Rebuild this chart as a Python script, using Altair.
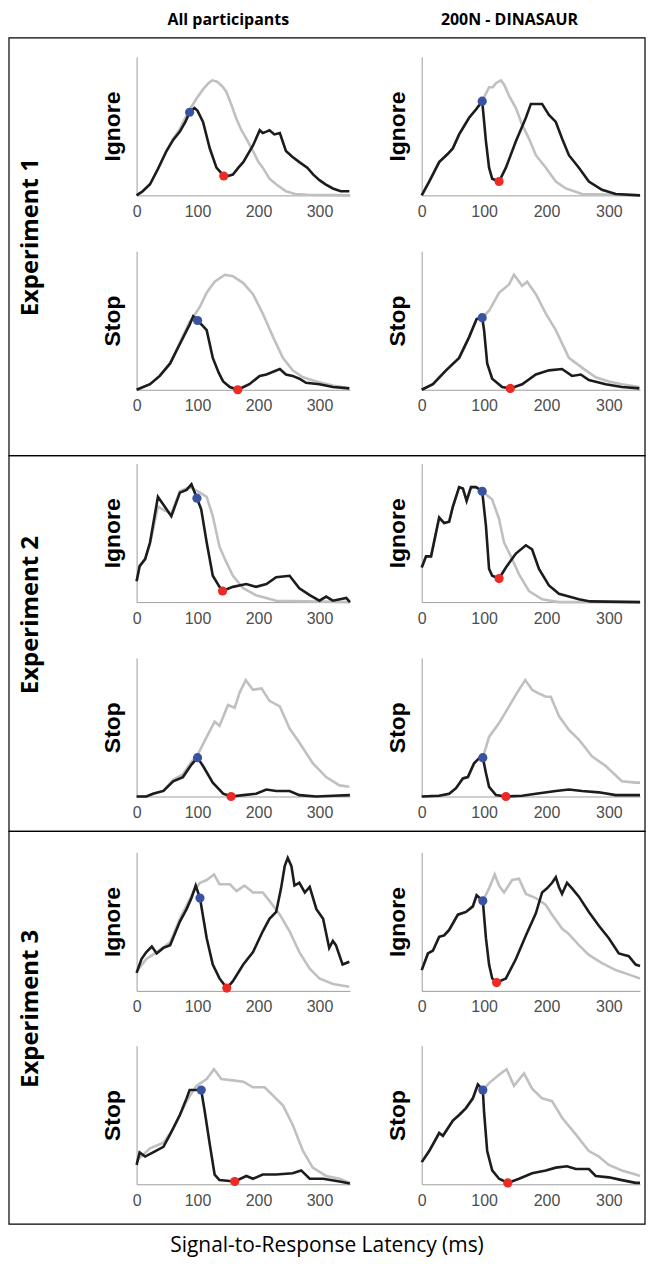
import altair as alt
import pandas as pd

# ---------------- text ----------------
HEADERS = ["All participants", "200N - DINASAUR"]
EXPERIMENTS = ["Experiment 1", "Experiment 2", "Experiment 3"]
CONDITIONS = ["Ignore", "Stop"]
X_TICKS = [0, 100, 200, 300]
X_TITLE = "Signal-to-Response Latency (ms)"

# ---------------- data (latency ms, normalised density) ----------------
# Experiment 1 - All participants - Ignore
E1_ALL_IGN_GRAY = [(0,0),(10,0.03),(22,0.08),(35,0.19),(49,0.32),(60,0.41),(71,0.48),(80,0.56),(90,0.64),(100,0.71),(110,0.77),(118,0.81),(124,0.83),(132,0.82),(140,0.79),(147,0.75),(155,0.66),(164,0.55),(172,0.47),(180,0.41),(191,0.32),(200,0.24),(207,0.20),(218,0.12),(229,0.08),(245,0.03),(260,0.01),(280,0.005),(350,0)]
E1_ALL_IGN_BLACK = [(0,0),(10,0.03),(22,0.08),(35,0.19),(49,0.32),(60,0.40),(71,0.46),(80,0.53),(87,0.60),(95,0.63),(100,0.61),(109,0.53),(120,0.34),(131,0.20),(143,0.14),(150,0.14),(158,0.15),(167,0.20),(175,0.24),(191,0.36),(202,0.47),(207,0.45),(213,0.46),(218,0.47),(226,0.44),(235,0.45),(245,0.32),(255,0.28),(267,0.24),(280,0.20),(290,0.15),(300,0.11),(310,0.08),(322,0.05),(335,0.03),(349,0.03)]
E1_ALL_IGN_MARKS = [(87,0.60),(143,0.14)]
# Experiment 1 - DINASAUR - Ignore
E1_DIN_IGN_GRAY = [(0,0),(12,0.10),(28,0.24),(42,0.30),(50,0.34),(60,0.44),(76,0.56),(87,0.62),(97,0.68),(108,0.78),(114,0.78),(119,0.81),(127,0.83),(132,0.80),(140,0.72),(151,0.63),(161,0.51),(172,0.41),(183,0.29),(199,0.20),(215,0.10),(231,0.05),(257,0.01),(350,0)]
E1_DIN_IGN_BLACK = [(0,0),(12,0.10),(28,0.24),(42,0.30),(50,0.34),(60,0.44),(76,0.56),(87,0.62),(97,0.68),(103,0.39),(108,0.20),(113,0.12),(124,0.10),(135,0.20),(151,0.39),(167,0.56),(175,0.66),(183,0.66),(193,0.66),(204,0.58),(215,0.53),(225,0.41),(236,0.29),(252,0.20),(268,0.10),(289,0.04),(311,0.01),(350,0)]
E1_DIN_IGN_MARKS = [(97,0.68),(124,0.10)]
# Experiment 1 - All participants - Stop
E1_ALL_STP_GRAY = [(0,0),(22,0.04),(38,0.10),(55,0.19),(71,0.34),(87,0.49),(95,0.54),(104,0.60),(115,0.70),(128,0.78),(145,0.83),(158,0.82),(175,0.77),(191,0.69),(207,0.55),(224,0.38),(240,0.23),(256,0.14),(273,0.09),(295,0.06),(322,0.03),(349,0.01)]
E1_ALL_STP_BLACK = [(0,0),(22,0.04),(38,0.10),(55,0.19),(71,0.33),(87,0.47),(93,0.53),(100,0.50),(109,0.46),(115,0.43),(125,0.23),(135,0.12),(142,0.06),(153,0.02),(166,0.0),(185,0.04),(202,0.10),(213,0.11),(235,0.15),(245,0.11),(256,0.10),(267,0.08),(278,0.05),(300,0.04),(322,0.02),(349,0.01)]
E1_ALL_STP_MARKS = [(100,0.50),(166,0.0)]
# Experiment 1 - DINASAUR - Stop
E1_DIN_STP_GRAY = [(0,0),(18,0.04),(39,0.14),(60,0.23),(76,0.38),(88,0.51),(97,0.52),(108,0.57),(124,0.70),(140,0.76),(148,0.83),(161,0.75),(169,0.78),(183,0.69),(199,0.55),(215,0.43),(236,0.23),(257,0.16),(279,0.09),(300,0.06),(321,0.04),(349,0.02)]
E1_DIN_STP_BLACK = [(0,0),(18,0.04),(39,0.14),(60,0.23),(76,0.38),(88,0.51),(97,0.52),(100,0.43),(105,0.19),(113,0.08),(129,0.02),(142,0.01),(161,0.04),(183,0.11),(204,0.14),(225,0.15),(241,0.10),(255,0.11),(268,0.07),(295,0.04),(321,0.02),(349,0.01)]
E1_DIN_STP_MARKS = [(97,0.52),(142,0.01)]
# Experiment 2 - All participants - Ignore
E2_ALL_IGN_GRAY = [(0,0.15),(5,0.26),(14,0.31),(22,0.42),(35,0.69),(46,0.66),(57,0.64),(71,0.80),(87,0.83),(104,0.79),(115,0.76),(125,0.62),(136,0.40),(147,0.29),(158,0.19),(175,0.10),(196,0.05),(229,0.01),(350,0)]
E2_ALL_IGN_BLACK = [(0,0.15),(5,0.26),(14,0.31),(22,0.43),(35,0.76),(46,0.69),(57,0.62),(71,0.79),(82,0.81),(90,0.85),(99,0.75),(106,0.67),(115,0.43),(125,0.19),(136,0.11),(141,0.08),(158,0.11),(180,0.13),(196,0.11),(213,0.13),(229,0.18),(251,0.19),(267,0.10),(284,0.05),(300,0.01),(311,0.04),(322,0.01),(344,0.03),(350,0.0)]
E2_ALL_IGN_MARKS = [(99,0.75),(141,0.08)]
# Experiment 2 - DINASAUR - Ignore
E2_DIN_IGN_GRAY = [(0,0.25),(7,0.33),(15,0.33),(28,0.61),(36,0.57),(44,0.58),(50,0.69),(60,0.83),(66,0.82),(72,0.73),(79,0.83),(87,0.83),(97,0.80),(113,0.74),(124,0.60),(132,0.43),(143,0.33),(156,0.20),(172,0.08),(193,0.02),(220,0),(350,0)]
E2_DIN_IGN_BLACK = [(0,0.25),(7,0.33),(15,0.33),(28,0.61),(36,0.57),(44,0.58),(50,0.69),(60,0.83),(66,0.82),(72,0.73),(79,0.83),(87,0.83),(97,0.80),(103,0.55),(108,0.24),(113,0.19),(124,0.17),(135,0.25),(151,0.35),(167,0.41),(177,0.38),(188,0.24),(204,0.12),(220,0.06),(236,0.04),(252,0.02),(270,0.005),(350,0)]
E2_DIN_IGN_MARKS = [(97,0.80),(124,0.17)]
# Experiment 2 - All participants - Stop
E2_ALL_STP_GRAY = [(0,0),(16,0),(27,0.02),(44,0.04),(60,0.12),(76,0.16),(90,0.25),(100,0.30),(115,0.43),(128,0.54),(136,0.51),(150,0.66),(161,0.64),(169,0.75),(179,0.84),(191,0.77),(205,0.78),(218,0.69),(235,0.65),(251,0.49),(267,0.39),(289,0.24),(311,0.14),(333,0.08),(349,0.07)]
E2_ALL_STP_BLACK = [(0,0),(16,0),(27,0.02),(44,0.04),(60,0.11),(76,0.14),(90,0.23),(100,0.28),(109,0.22),(125,0.10),(142,0.02),(155,0),(175,0.01),(196,0.02),(213,0.05),(229,0.04),(251,0.04),(267,0.01),(295,0),(322,0.005),(350,0.01)]
E2_ALL_STP_MARKS = [(100,0.28),(155,0)]
# Experiment 2 - DINASAUR - Stop
E2_DIN_STP_GRAY = [(0,0),(28,0.005),(44,0.02),(55,0.06),(66,0.13),(74,0.14),(84,0.24),(93,0.28),(98,0.28),(108,0.43),(124,0.53),(140,0.65),(153,0.75),(166,0.84),(177,0.77),(185,0.75),(199,0.72),(207,0.72),(220,0.58),(236,0.48),(252,0.41),(273,0.29),(295,0.22),(321,0.11),(343,0.10),(350,0.10)]
E2_DIN_STP_BLACK = [(0,0),(28,0.005),(44,0.02),(55,0.06),(66,0.13),(74,0.14),(84,0.24),(93,0.28),(98,0.28),(103,0.17),(108,0.07),(119,0.01),(135,0),(161,0.005),(183,0.02),(215,0.04),(236,0.05),(257,0.04),(284,0.03),(311,0.01),(343,0.01),(350,0.01)]
E2_DIN_STP_MARKS = [(98,0.28),(135,0)]
# Experiment 3 - All participants - Ignore
E3_ALL_IGN_GRAY = [(0,0.14),(16,0.23),(33,0.28),(55,0.35),(71,0.52),(93,0.71),(104,0.78),(115,0.80),(127,0.84),(136,0.77),(153,0.77),(164,0.72),(177,0.76),(191,0.71),(207,0.71),(218,0.65),(235,0.55),(251,0.43),(267,0.28),(284,0.16),(300,0.09),(322,0.05),(349,0.03)]
E3_ALL_IGN_BLACK = [(0,0.13),(8,0.23),(16,0.28),(25,0.32),(33,0.27),(44,0.31),(55,0.33),(71,0.50),(82,0.59),(90,0.67),(97,0.76),(104,0.67),(115,0.38),(125,0.19),(136,0.09),(148,0.02),(158,0.07),(175,0.19),(191,0.28),(207,0.43),(218,0.52),(229,0.57),(237,0.74),(243,0.90),(248,0.96),(254,0.90),(259,0.76),(267,0.78),(276,0.71),(284,0.75),(295,0.59),(306,0.52),(316,0.31),(322,0.36),(327,0.33),(338,0.19),(349,0.21)]
E3_ALL_IGN_MARKS = [(104,0.67),(148,0.02)]
# Experiment 3 - DINASAUR - Ignore
E3_DIN_IGN_GRAY = [(0,0.15),(10,0.27),(18,0.29),(28,0.39),(36,0.40),(44,0.44),(58,0.55),(71,0.57),(82,0.61),(88,0.69),(98,0.65),(108,0.74),(117,0.84),(124,0.76),(132,0.71),(145,0.80),(156,0.81),(167,0.70),(183,0.67),(199,0.62),(209,0.55),(225,0.45),(236,0.41),(252,0.33),(268,0.26),(289,0.20),(311,0.15),(337,0.11),(350,0.09)]
E3_DIN_IGN_BLACK = [(0,0.15),(10,0.27),(18,0.29),(28,0.39),(36,0.40),(44,0.44),(58,0.55),(71,0.57),(82,0.61),(88,0.69),(98,0.65),(103,0.38),(108,0.19),(113,0.09),(120,0.06),(135,0.09),(151,0.23),(167,0.40),(183,0.56),(193,0.71),(201,0.74),(209,0.78),(215,0.82),(220,0.75),(225,0.70),(233,0.78),(241,0.74),(252,0.68),(268,0.57),(284,0.47),(300,0.38),(316,0.27),(332,0.25),(343,0.19),(350,0.18)]
E3_DIN_IGN_MARKS = [(98,0.65),(120,0.06)]
# Experiment 3 - All participants - Stop
E3_ALL_STP_GRAY = [(0,0.17),(22,0.26),(44,0.30),(60,0.40),(82,0.60),(98,0.71),(115,0.76),(127,0.83),(139,0.76),(158,0.75),(175,0.74),(191,0.70),(210,0.70),(224,0.64),(240,0.57),(256,0.43),(273,0.24),(289,0.12),(311,0.06),(333,0.04),(350,0.01)]
E3_ALL_STP_BLACK = [(0,0.14),(5,0.23),(14,0.20),(27,0.23),(44,0.27),(55,0.36),(71,0.50),(82,0.62),(87,0.68),(98,0.68),(106,0.68),(112,0.52),(120,0.29),(128,0.07),(136,0.03),(161,0.02),(180,0.06),(191,0.04),(207,0.07),(229,0.07),(256,0.08),(270,0.10),(284,0.04),(306,0.04),(333,0.02),(350,0.005)]
E3_ALL_STP_MARKS = [(106,0.68),(161,0.02)]
# Experiment 3 - DINASAUR - Stop
E3_DIN_STP_GRAY = [(0,0.16),(12,0.24),(28,0.37),(34,0.35),(50,0.46),(60,0.50),(71,0.55),(82,0.62),(90,0.72),(98,0.68),(108,0.73),(124,0.79),(136,0.83),(148,0.71),(164,0.80),(177,0.69),(193,0.62),(209,0.60),(225,0.48),(247,0.36),(268,0.24),(284,0.20),(300,0.14),(321,0.10),(343,0.07),(350,0.06)]
E3_DIN_STP_BLACK = [(0,0.16),(12,0.24),(28,0.37),(34,0.35),(50,0.46),(60,0.50),(71,0.55),(82,0.62),(90,0.72),(98,0.68),(100,0.52),(105,0.24),(113,0.10),(124,0.04),(138,0.01),(156,0.04),(177,0.08),(199,0.10),(215,0.12),(233,0.13),(247,0.11),(268,0.11),(279,0.06),(300,0.05),(321,0.03),(343,0.01),(350,0.01)]
E3_DIN_STP_MARKS = [(98,0.68),(138,0.01)]

PANELS = [
    [[(E1_ALL_IGN_GRAY, E1_ALL_IGN_BLACK, E1_ALL_IGN_MARKS), (E1_DIN_IGN_GRAY, E1_DIN_IGN_BLACK, E1_DIN_IGN_MARKS)],
     [(E1_ALL_STP_GRAY, E1_ALL_STP_BLACK, E1_ALL_STP_MARKS), (E1_DIN_STP_GRAY, E1_DIN_STP_BLACK, E1_DIN_STP_MARKS)]],
    [[(E2_ALL_IGN_GRAY, E2_ALL_IGN_BLACK, E2_ALL_IGN_MARKS), (E2_DIN_IGN_GRAY, E2_DIN_IGN_BLACK, E2_DIN_IGN_MARKS)],
     [(E2_ALL_STP_GRAY, E2_ALL_STP_BLACK, E2_ALL_STP_MARKS), (E2_DIN_STP_GRAY, E2_DIN_STP_BLACK, E2_DIN_STP_MARKS)]],
    [[(E3_ALL_IGN_GRAY, E3_ALL_IGN_BLACK, E3_ALL_IGN_MARKS), (E3_DIN_IGN_GRAY, E3_DIN_IGN_BLACK, E3_DIN_IGN_MARKS)],
     [(E3_ALL_STP_GRAY, E3_ALL_STP_BLACK, E3_ALL_STP_MARKS), (E3_DIN_STP_GRAY, E3_DIN_STP_BLACK, E3_DIN_STP_MARKS)]],
]

# ---------------- layout / style ----------------
W = 638           # frame width
LEFT_W = 56       # first grid column (labels)
COL_GAP = 72      # grid column spacing
PANEL_W = [214, 219]
PANEL_H = 139
BLOCK_H = [419, 377, 394]
TOP_GAP = [19, 8, 21]
ROW_GAP = [56, 56, 55]
LABEL_Y = [200, 160, 178]
HEADER_X = [220, 502]
FOOTER_X = 319
GRAY = "#c0c0c0"
BLACK = "#1c1c1c"
BLUE = "#3953a4"
RED = "#ee2a24"


def spacer(h, w=1):
    return alt.Chart(pd.DataFrame({"s": [0]})).mark_point(opacity=0, size=0).properties(width=w, height=h)


def panel(gray, black, marks, cond, width):
    g = pd.DataFrame(gray, columns=["t", "v"])
    b = pd.DataFrame(black, columns=["t", "v"])
    m = pd.DataFrame(marks, columns=["t", "v"])
    m["kind"] = ["onset", "trough"]
    x = alt.X("t:Q", title=None,
              scale=alt.Scale(domain=[0, 350], nice=False, zero=False),
              axis=alt.Axis(values=X_TICKS, ticks=False, grid=False, labelFontSize=16,
                            labelColor="#4d4d4d", labelFont="Liberation Sans", labelPadding=8,
                            domainColor="#9e9e9e", labelFlush=False))
    y = alt.Y("v:Q", title=cond,
              scale=alt.Scale(domain=[0, 1], nice=False),
              axis=alt.Axis(labels=False, ticks=False, grid=False, domainColor="#9e9e9e",
                            titleFontSize=23, titleFont="Liberation Sans", titleFontWeight="bold",
                            titleColor="black", titlePadding=12))
    gl = alt.Chart(g).mark_line(color=GRAY, strokeWidth=2.6).encode(x=x, y=y)
    bl = alt.Chart(b).mark_line(color=BLACK, strokeWidth=2.6).encode(x=x, y=y)
    pt = alt.Chart(m).mark_circle(size=85, opacity=1).encode(
        x=x, y=y,
        color=alt.Color("kind:N", scale=alt.Scale(domain=["onset", "trough"], range=[BLUE, RED]), legend=None))
    return alt.layer(gl, bl, pt).properties(width=width, height=PANEL_H)


def label_chart(k):
    H = BLOCK_H[k]
    box = alt.Chart(pd.DataFrame({"s": [0]})).mark_rect(
        fill="transparent", stroke="black", strokeWidth=1.2).encode(
        x=alt.value(0), x2=alt.value(W), y=alt.value(0), y2=alt.value(H))
    txt = alt.Chart(pd.DataFrame({"label": [EXPERIMENTS[k]]})).mark_text(
        angle=270, font="Open Sans", fontSize=24, fontWeight="bold", color="black",
        align="center", baseline="middle").encode(
        text="label:N", x=alt.value(22), y=alt.value(LABEL_Y[k]))
    return alt.layer(box, txt).properties(width=LEFT_W, height=TOP_GAP[k])


cells = []
# header row
hdr_df = pd.DataFrame({"label": HEADERS})
hdr_layers = []
for i, xpos in enumerate(HEADER_X):
    hdr_layers.append(
        alt.Chart(hdr_df.iloc[[i]]).mark_text(
            font="Open Sans", fontSize=16, fontWeight="bold", color="black",
            align="center", baseline="middle").encode(
            text="label:N", x=alt.value(xpos), y=alt.value(10)))
cells += [alt.layer(*hdr_layers).properties(width=LEFT_W, height=28), spacer(1), spacer(1)]

for k in range(3):
    cells += [label_chart(k), spacer(1), spacer(1)]
    for r in range(2):
        cells.append(spacer(1))
        for c in range(2):
            cells.append(panel(*PANELS[k][r][c], CONDITIONS[r], PANEL_W[c]))
        if r == 0:
            cells += [spacer(ROW_GAP[k]), spacer(1), spacer(1)]
    rest = BLOCK_H[k] - TOP_GAP[k] - 2 * PANEL_H - ROW_GAP[k]
    cells += [spacer(rest), spacer(1), spacer(1)]

footer = alt.Chart(pd.DataFrame({"label": [X_TITLE]})).mark_text(
    font="Open Sans", fontSize=21, color="black", align="center", baseline="middle").encode(
    text="label:N", x=alt.value(FOOTER_X), y=alt.value(22)).properties(width=LEFT_W, height=34)
cells += [footer, spacer(1), spacer(1)]

chart = alt.concat(*cells, columns=3, spacing={"row": 0, "column": COL_GAP},
                   bounds="flush", align="each").properties(padding=0).configure_view(strokeWidth=0)

chart.save("out.html", embed_options={"renderer": "svg", "actions": False})
